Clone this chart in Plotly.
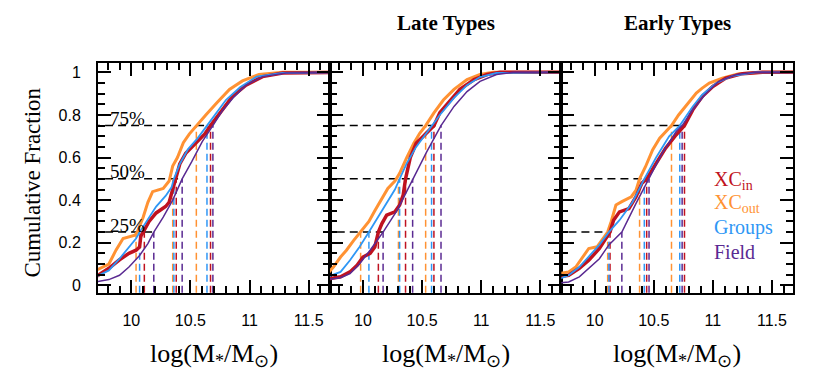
import plotly.graph_objects as go

# ---- data (log stellar mass vs cumulative fraction) ----
panels = ['All', 'Late Types', 'Early Types']
samples = ['XC_out', 'XC_in', 'Groups', 'Field']

# panel 1 : all galaxies
p1_xcout_x = [9.70, 9.81, 9.87, 9.93, 10.03, 10.05, 10.10, 10.14, 10.18, 10.27, 10.32, 10.35, 10.39, 10.44, 10.49, 10.55, 10.63, 10.72, 10.83, 10.94, 11.08, 11.28, 11.70]
p1_xcout_y = [0.07, 0.10, 0.165, 0.22, 0.235, 0.25, 0.32, 0.39, 0.44, 0.455, 0.49, 0.56, 0.60, 0.67, 0.71, 0.75, 0.80, 0.855, 0.92, 0.96, 0.99, 1.0, 1.0]
p1_xcin_x = [9.70, 9.81, 9.90, 9.98, 10.04, 10.07, 10.08, 10.10, 10.15, 10.21, 10.29, 10.32, 10.35, 10.38, 10.41, 10.46, 10.55, 10.62, 10.67, 10.75, 10.86, 10.97, 11.11, 11.28, 11.70]
p1_xcin_y = [0.04, 0.08, 0.12, 0.15, 0.165, 0.18, 0.23, 0.25, 0.30, 0.34, 0.37, 0.39, 0.45, 0.50, 0.57, 0.62, 0.67, 0.71, 0.75, 0.81, 0.89, 0.94, 0.98, 0.997, 1.0]
p1_groups_x = [9.70, 9.81, 9.90, 9.98, 10.04, 10.07, 10.14, 10.21, 10.29, 10.34, 10.36, 10.41, 10.48, 10.56, 10.64, 10.72, 10.80, 10.92, 11.06, 11.28, 11.70]
p1_groups_y = [0.04, 0.07, 0.125, 0.18, 0.22, 0.25, 0.31, 0.37, 0.42, 0.46, 0.50, 0.57, 0.64, 0.69, 0.75, 0.81, 0.87, 0.93, 0.98, 0.997, 1.0]
p1_field_x = [9.70, 9.81, 9.90, 9.98, 10.07, 10.14, 10.19, 10.27, 10.35, 10.43, 10.51, 10.60, 10.69, 10.77, 10.86, 10.97, 11.11, 11.31, 11.70]
p1_field_y = [0.016, 0.027, 0.047, 0.086, 0.14, 0.196, 0.25, 0.32, 0.40, 0.50, 0.58, 0.675, 0.75, 0.82, 0.88, 0.94, 0.98, 0.997, 1.0]

# panel 2 : late types
p2_xcout_x = [9.70, 9.75, 9.81, 9.86, 9.92, 9.98, 10.05, 10.10, 10.16, 10.21, 10.27, 10.31, 10.37, 10.43, 10.48, 10.53, 10.60, 10.68, 10.77, 10.88, 10.99, 11.10, 11.70]
p2_xcout_y = [0.055, 0.086, 0.133, 0.165, 0.21, 0.25, 0.30, 0.35, 0.41, 0.455, 0.49, 0.526, 0.60, 0.667, 0.714, 0.75, 0.81, 0.87, 0.92, 0.966, 0.99, 1.0, 1.0]
p2_xcin_x = [9.70, 9.81, 9.89, 9.95, 10.00, 10.06, 10.10, 10.13, 10.16, 10.20, 10.27, 10.31, 10.34, 10.36, 10.40, 10.45, 10.51, 10.57, 10.60, 10.65, 10.74, 10.82, 10.94, 11.05, 11.16, 11.70]
p2_xcin_y = [0.03, 0.04, 0.063, 0.094, 0.133, 0.15, 0.18, 0.25, 0.29, 0.33, 0.345, 0.377, 0.424, 0.50, 0.60, 0.667, 0.70, 0.73, 0.75, 0.81, 0.87, 0.92, 0.966, 0.99, 1.0, 1.0]
p2_groups_x = [9.70, 9.81, 9.89, 9.97, 10.05, 10.12, 10.20, 10.27, 10.31, 10.37, 10.45, 10.58, 10.65, 10.77, 10.88, 10.99, 11.13, 11.70]
p2_groups_y = [0.04, 0.063, 0.118, 0.18, 0.25, 0.314, 0.385, 0.45, 0.50, 0.573, 0.65, 0.75, 0.80, 0.88, 0.94, 0.978, 0.997, 1.0]
p2_field_x = [9.70, 9.81, 9.89, 9.97, 10.06, 10.17, 10.29, 10.42, 10.54, 10.66, 10.77, 10.88, 10.99, 11.13, 11.27, 11.70]
p2_field_y = [0.027, 0.036, 0.055, 0.10, 0.165, 0.25, 0.353, 0.50, 0.628, 0.75, 0.84, 0.91, 0.958, 0.99, 1.0, 1.0]

# panel 3 : early types
p3_xcout_x = [9.70, 9.78, 9.84, 9.90, 9.95, 10.02, 10.08, 10.11, 10.14, 10.18, 10.23, 10.31, 10.35, 10.38, 10.43, 10.49, 10.55, 10.60, 10.65, 10.71, 10.80, 10.86, 10.91, 10.97, 11.08, 11.22, 11.42, 11.70]
p3_xcout_y = [0.055, 0.063, 0.086, 0.133, 0.173, 0.181, 0.228, 0.25, 0.30, 0.377, 0.393, 0.416, 0.447, 0.50, 0.557, 0.636, 0.691, 0.722, 0.75, 0.80, 0.864, 0.903, 0.926, 0.95, 0.973, 0.994, 1.0, 1.0]
p3_xcin_x = [9.70, 9.78, 9.87, 9.95, 10.04, 10.09, 10.13, 10.16, 10.21, 10.29, 10.35, 10.40, 10.44, 10.52, 10.60, 10.69, 10.76, 10.83, 10.91, 11.00, 11.11, 11.25, 11.42, 11.70]
p3_xcin_y = [0.04, 0.047, 0.08, 0.118, 0.173, 0.22, 0.25, 0.306, 0.345, 0.36, 0.416, 0.48, 0.50, 0.573, 0.644, 0.707, 0.75, 0.824, 0.887, 0.934, 0.973, 0.994, 1.0, 1.0]
p3_groups_x = [9.70, 9.78, 9.87, 9.95, 10.04, 10.12, 10.21, 10.32, 10.42, 10.52, 10.63, 10.72, 10.83, 10.91, 11.03, 11.17, 11.36, 11.70]
p3_groups_y = [0.03, 0.047, 0.086, 0.133, 0.19, 0.25, 0.306, 0.39, 0.50, 0.60, 0.70, 0.75, 0.84, 0.895, 0.95, 0.984, 1.0, 1.0]
p3_field_x = [9.70, 9.78, 9.87, 9.95, 10.04, 10.12, 10.23, 10.35, 10.46, 10.57, 10.69, 10.74, 10.83, 10.94, 11.05, 11.20, 11.36, 11.70]
p3_field_y = [0.011, 0.016, 0.04, 0.08, 0.125, 0.19, 0.25, 0.385, 0.50, 0.62, 0.722, 0.75, 0.824, 0.90, 0.958, 0.99, 1.0, 1.0]

# quartiles (25/50/75%) per panel
levels = [0.25, 0.50, 0.75]
p1_quart = {'XC_out': [10.04, 10.35, 10.55], 'XC_in': [10.11, 10.38, 10.67], 'Groups': [10.07, 10.36, 10.64], 'Field': [10.19, 10.43, 10.69]}
p2_quart = {'XC_out': [9.98, 10.30, 10.53], 'XC_in': [10.13, 10.36, 10.60], 'Groups': [10.05, 10.31, 10.58], 'Field': [10.17, 10.42, 10.66]}
p3_quart = {'XC_out': [10.11, 10.38, 10.65], 'XC_in': [10.13, 10.44, 10.76], 'Groups': [10.12, 10.42, 10.72], 'Field': [10.23, 10.46, 10.74]}
# where the black horizontal dashes stop
p1_hend = [10.19, 10.43, 10.69]
p2_hend = [10.17, 10.42, 10.66]
p3_hend = [10.14, 10.45, 10.76]

xticks = [10, 10.5, 11, 11.5]
xticklabels = ['10', '10.5', '11', '11.5']
yticks = [0, 0.2, 0.4, 0.6, 0.8, 1]
yticklabels = ['0', '0.2', '0.4', '0.6', '0.8', '1']

colors = {'XC_in': '#bf1220', 'XC_out': '#ff9233', 'Groups': '#2f97f5', 'Field': '#5a2a92'}
widths = {'XC_in': 3.5, 'XC_out': 3, 'Groups': 1.8, 'Field': 1.5}

curves = [
    {'XC_out': (p1_xcout_x, p1_xcout_y), 'XC_in': (p1_xcin_x, p1_xcin_y), 'Groups': (p1_groups_x, p1_groups_y), 'Field': (p1_field_x, p1_field_y)},
    {'XC_out': (p2_xcout_x, p2_xcout_y), 'XC_in': (p2_xcin_x, p2_xcin_y), 'Groups': (p2_groups_x, p2_groups_y), 'Field': (p2_field_x, p2_field_y)},
    {'XC_out': (p3_xcout_x, p3_xcout_y), 'XC_in': (p3_xcin_x, p3_xcin_y), 'Groups': (p3_groups_x, p3_groups_y), 'Field': (p3_field_x, p3_field_y)},
]
quarts = [p1_quart, p2_quart, p3_quart]
hends = [p1_hend, p2_hend, p3_hend]

XMIN, XMAX = 9.718, 11.678
YMIN, YMAX = -0.036, 1.044

serif = 'Liberation Serif, Times New Roman, serif'
sans = 'Liberation Sans, Arial, sans-serif'

fig = go.Figure()

for i in range(3):
    xa = 'x' if i == 0 else 'x%d' % (i + 1)
    ya = 'y' if i == 0 else 'y%d' % (i + 1)
    # black horizontal dashes at 25/50/75%
    hx, hy = [], []
    for lev, xe in zip(levels, hends[i]):
        hx += [XMIN - 0.05, xe, None]
        hy += [lev, lev, None]
    fig.add_trace(go.Scatter(x=hx, y=hy, mode='lines', xaxis=xa, yaxis=ya,
                             line=dict(color='black', width=1.5, dash='8px,5px'),
                             showlegend=False, hoverinfo='skip'))
    # coloured vertical dashes at quartiles
    for s in samples:
        vx, vy = [], []
        for lev, q in zip(levels, quarts[i][s]):
            vx += [q, q, None]
            vy += [YMIN - 0.05, lev, None]
        fig.add_trace(go.Scatter(x=vx, y=vy, mode='lines', xaxis=xa, yaxis=ya,
                                 line=dict(color=colors[s], width=1.5, dash='7px,4px'),
                                 showlegend=False, hoverinfo='skip'))
    # cumulative curves
    for s in samples:
        cx, cy = curves[i][s]
        fig.add_trace(go.Scatter(x=cx, y=cy, mode='lines', xaxis=xa, yaxis=ya,
                                 line=dict(color=colors[s], width=widths[s]),
                                 showlegend=False, name=s))

axis_common = dict(showline=True, linewidth=2, linecolor='black', mirror='allticks',
                   ticks='inside', ticklen=13, tickwidth=1.5, tickcolor='black',
                   showgrid=False, zeroline=False,
                   tickfont=dict(family=sans, size=16, color='black'))

# page body adds an 8px offset, so the figure is made 8px smaller
layout = dict(width=810, height=371, plot_bgcolor='white', paper_bgcolor='white',
              margin=dict(l=90, r=25, t=55, b=86), showlegend=False)
for i in range(3):
    d = [i / 3, (i + 1) / 3]
    xk = 'xaxis' if i == 0 else 'xaxis%d' % (i + 1)
    yk = 'yaxis' if i == 0 else 'yaxis%d' % (i + 1)
    layout[xk] = dict(axis_common, domain=d, range=[XMIN, XMAX],
                      tickvals=xticks, ticktext=xticklabels, ticklabelstandoff=12,
                      minor=dict(dtick=0.1, tick0=10, ticks='inside', ticklen=7, tickwidth=1.5, tickcolor='black'),
                      anchor='y' if i == 0 else 'y%d' % (i + 1))
    layout[yk] = dict(axis_common, domain=[0, 1], range=[YMIN, YMAX],
                      tickvals=yticks, ticktext=yticklabels, showticklabels=(i == 0),
                      ticklabelstandoff=12,
                      minor=dict(dtick=0.05, tick0=0, ticks='inside', ticklen=7, tickwidth=1.5, tickcolor='black'),
                      anchor='x' if i == 0 else 'x%d' % (i + 1))
fig.update_layout(**layout)

ann = []
# x titles
for i in range(3):
    ann.append(dict(x=(2 * i + 1) / 6, y=-0.27, xref='paper', yref='paper',
                    text='log(M<sub>*</sub>/M<sub>⊙</sub>)', showarrow=False,
                    font=dict(family=serif, size=26, color='black'),
                    xanchor='center', yanchor='middle'))
ann.append(dict(x=-0.0935, y=0.48, xref='paper', yref='paper', text='Cumulative Fraction',
                textangle=-90, showarrow=False, xanchor='center', yanchor='middle',
                font=dict(family=serif, size=23, color='black')))
# panel titles
for i, t in [(1, 'Late Types'), (2, 'Early Types')]:
    ann.append(dict(x=(2 * i + 1) / 6, y=1.174, xref='paper', yref='paper', text='<b>%s</b>' % t,
                    showarrow=False, font=dict(family=serif, size=21, color='black'),
                    xanchor='center', yanchor='middle'))
# percent labels in first panel
for lev, lab in zip(levels, ['25%', '50%', '75%']):
    ann.append(dict(x=9.80, y=lev + 0.033, xref='x', yref='y', text=lab, xanchor='left', yanchor='middle',
                    showarrow=False, font=dict(family=serif, size=19, color='black')))
# legend text in third panel
legend_items = [('XC<sub>in</sub>', 'XC_in', 0.49), ('XC<sub>out</sub>', 'XC_out', 0.385),
                ('Groups', 'Groups', 0.27), ('Field', 'Field', 0.155)]
for txt, s, yy in legend_items:
    ann.append(dict(x=10.99, y=yy, xref='x3', yref='y3', text=txt, xanchor='left', yanchor='middle',
                    showarrow=False, font=dict(family=serif, size=20, color=colors[s])))
fig.update_layout(annotations=ann)

fig.write_html("out.html")
